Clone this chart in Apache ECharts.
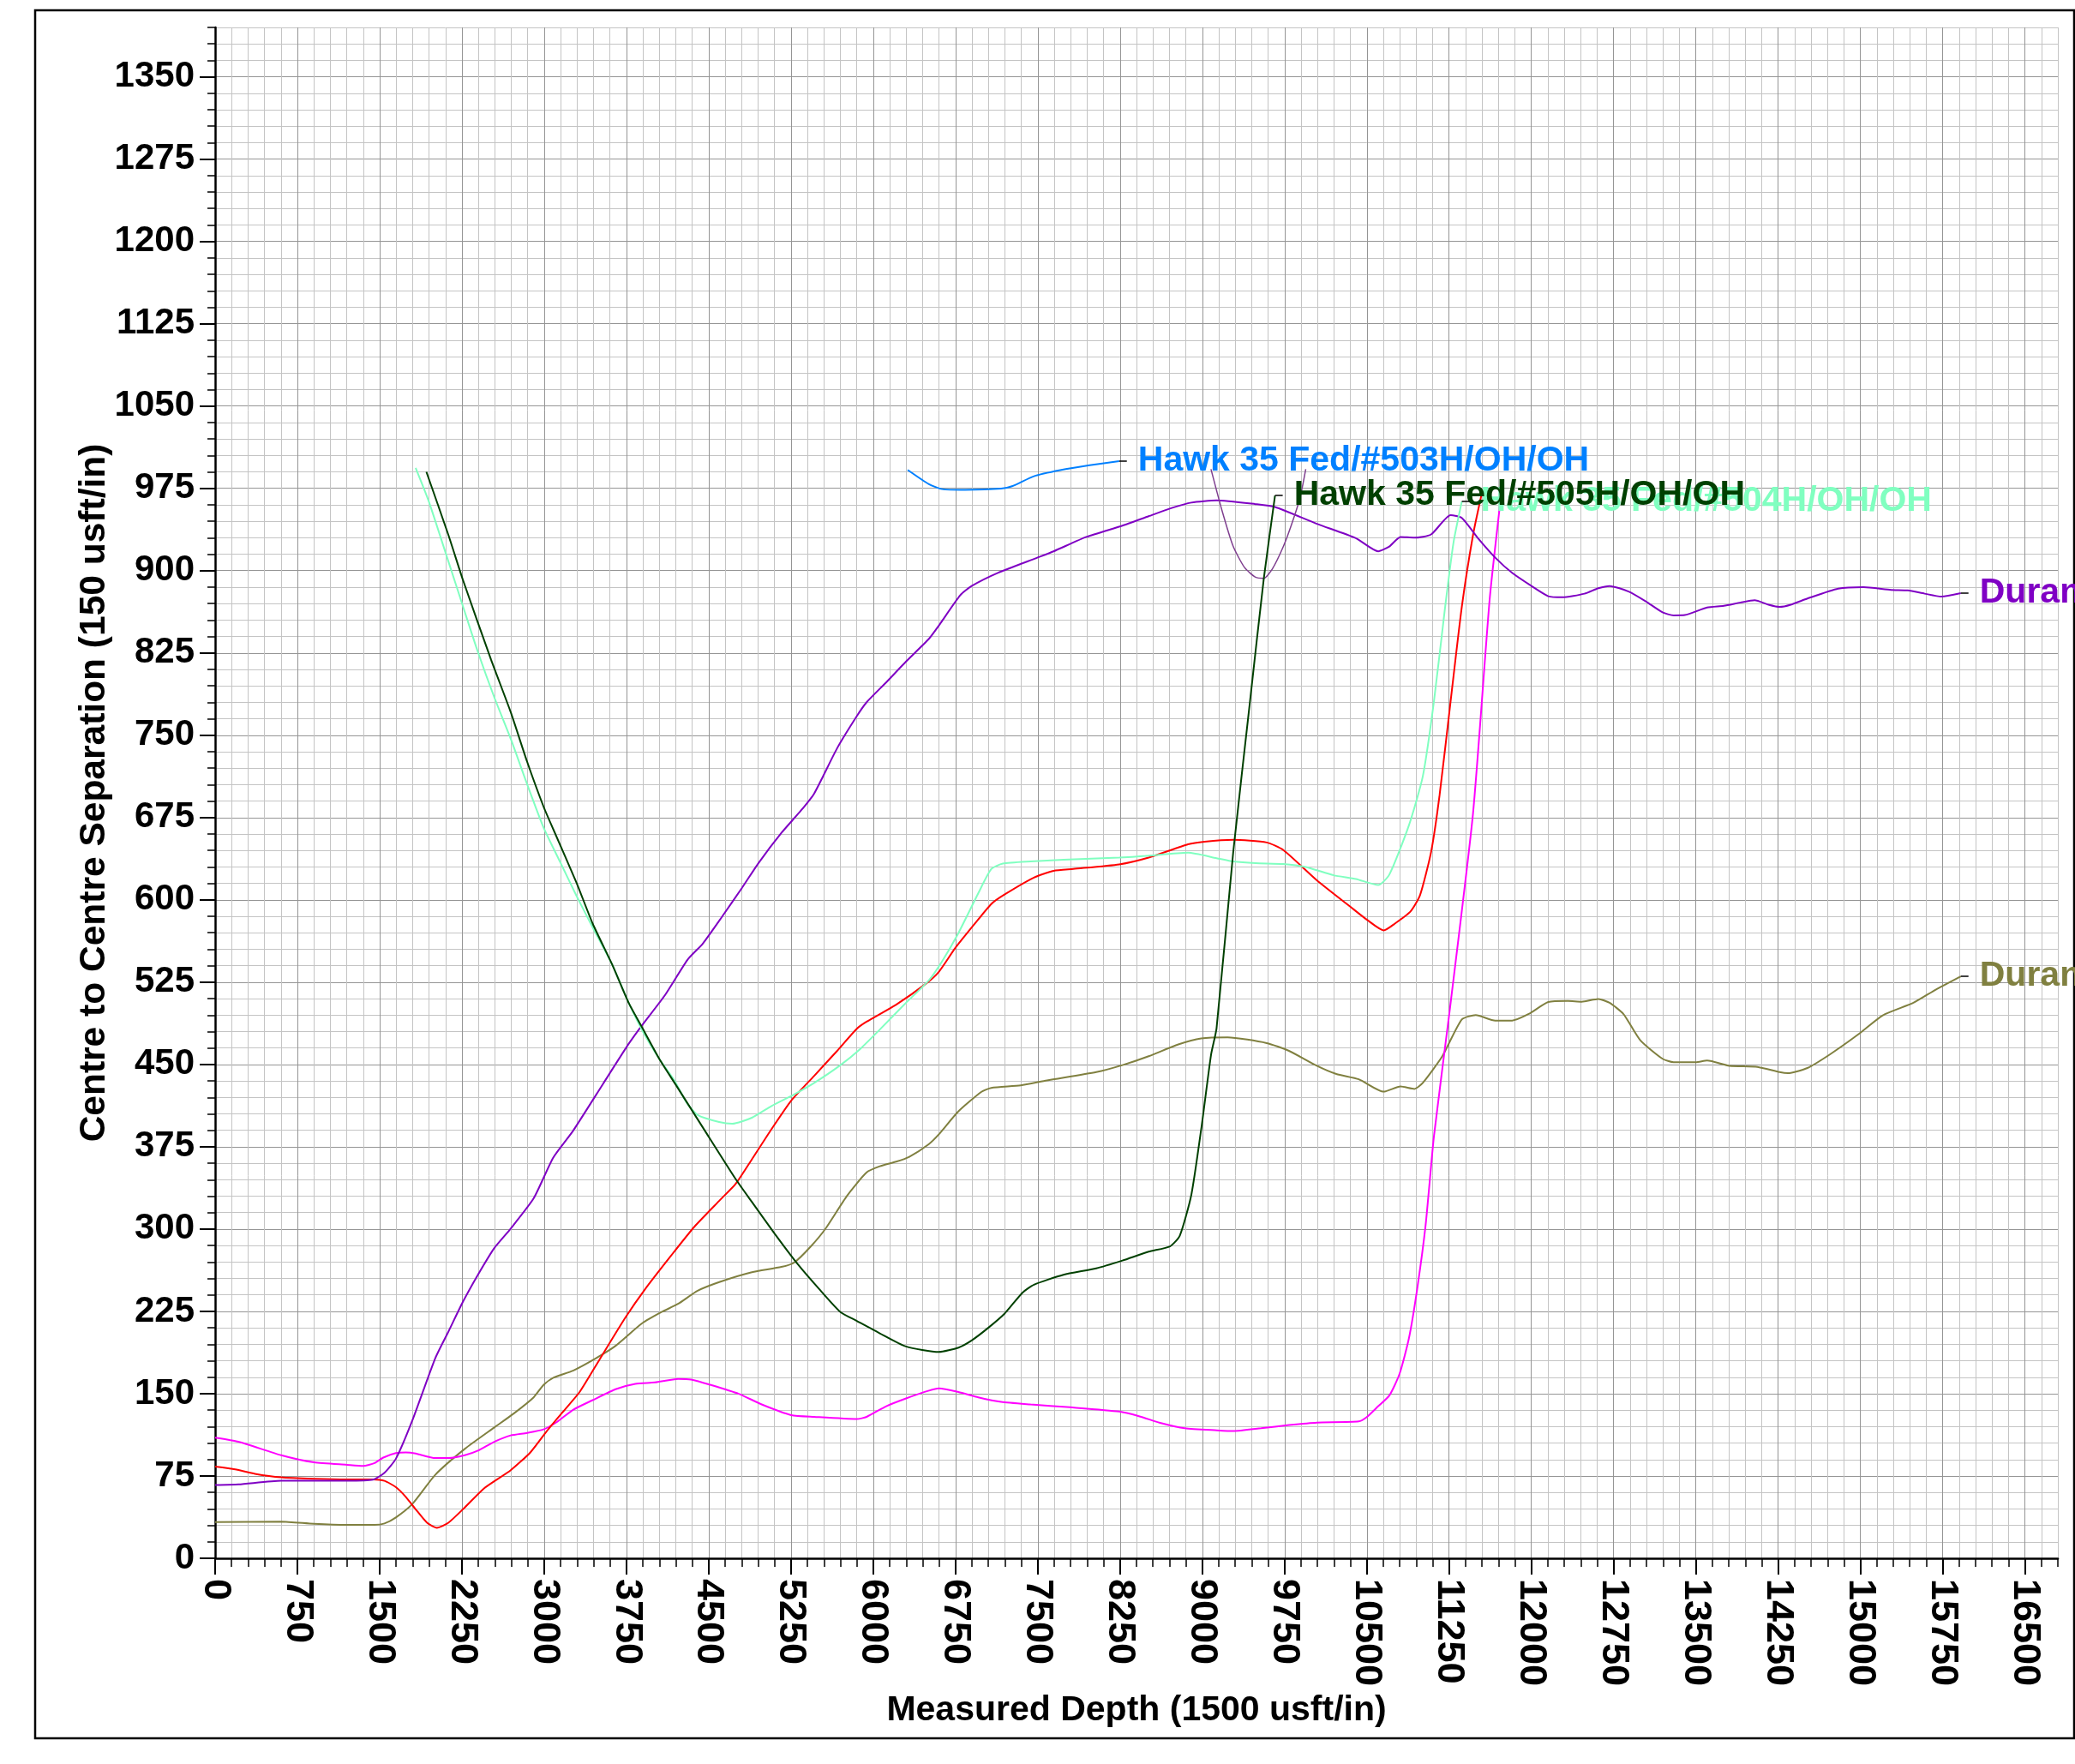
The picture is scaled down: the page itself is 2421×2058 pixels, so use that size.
<!DOCTYPE html>
<html>
<head>
<meta charset="utf-8">
<script src="https://cdn.jsdelivr.net/npm/echarts@6/dist/echarts.min.js"></script>
<style>
  html, body { margin: 0; padding: 0; background: #fff; }
  #chart { width: 2421px; height: 2058px; }
</style>
</head>
<body>
<div id="chart"></div>
<script>
// tick labels
const xLabels = [0, 750, 1500, 2250, 3000, 3750, 4500, 5250, 6000, 6750, 7500, 8250, 9000, 9750, 10500, 11250, 12000, 12750, 13500, 14250, 15000, 15750, 16500];
const yLabels = [0, 75, 150, 225, 300, 375, 450, 525, 600, 675, 750, 825, 900, 975, 1050, 1125, 1200, 1275, 1350];

// [measured depth, centre to centre separation]
const duranPurple = [[0,66.7],[213,67.3],[602,70.6],[1200,70.6],[1439,71.6],[1544,78],[1648,90.7],[1798,125.6],[2007,182.3],[2127,206.6],[2261,234.1],[2396,258.4],[2545,282.7],[2695,300.5],[2904,328],[3083,365.2],[3263,389.5],[3532,431.6],[3771,468.9],[3891,485.6],[4100,513],[4309,545.7],[4445,560],[4624,585],[4804,611],[4953,633.4],[5163,661],[5342,681.5],[5462,697],[5671,738.2],[5850,767.4],[5940,780.1],[6119,798.3],[6299,817.2],[6508,837.9],[6598,849.9],[6792,877.4],[6897,886],[7136,898],[7495,911.8],[7644,917.6],[7943,930.7],[8272,941],[8511,949.6],[8721,957.1],[8900,962],[9130,964],[9485,960.6],[9663,958],[10044,942.7],[10400,929.6],[10604,917.6],[10705,922],[10807,930.7],[10934,930],[11086,933],[11264,950.6],[11366,948],[11518,929],[11671,911.8],[11824,898],[12001,886],[12154,876.7],[12281,875.7],[12484,879],[12611,884],[12713,886],[12891,880.8],[13043,872],[13196,862],[13297,859.2],[13399,859.5],[13602,866.4],[13755,868],[13908,871],[14035,873],[14162,869],[14263,867],[14365,869],[14517,874.6],[14797,883.6],[15026,885],[15280,882.5],[15432,882],[15585,879],[15737,876.4],[15915,879.5]];

const duranOlive = [[0,33],[602,33.4],[901,31.4],[1200,30.4],[1454,30.4],[1544,31.7],[1648,37.2],[1798,49.5],[2007,76.1],[2276,99.7],[2545,119.2],[2725,132.1],[2904,146.7],[2994,158],[3083,164.5],[3263,171],[3472,182.3],[3651,193.6],[3891,214],[4070,224.4],[4220,231.8],[4399,243.8],[4602,251.9],[4894,260.7],[5163,265.5],[5282,269.7],[5432,284.3],[5566,300.5],[5761,330.3],[5940,351.6],[6060,357.2],[6209,361.4],[6329,365.9],[6508,377.5],[6598,386.3],[6777,407.3],[6987,425.1],[7076,428.7],[7345,431],[7584,435.5],[8033,443],[8272,449.4],[8511,457.5],[8781,468.2],[8990,473.7],[9231,474.7],[9587,469.5],[9790,462.4],[10044,448.8],[10222,441.3],[10426,436.5],[10654,425.2],[10807,430],[10934,427.7],[11010,433.2],[11188,457.5],[11366,491],[11493,495],[11671,490],[11824,490],[11976,496],[12154,506.9],[12332,507.9],[12459,507.2],[12611,509.6],[12713,506.2],[12840,495.9],[12993,472.1],[13196,455.2],[13297,452],[13501,452],[13602,453.6],[13806,448.8],[14060,447.8],[14263,443],[14339,442],[14517,446.8],[14721,459.1],[14975,477],[15204,494.8],[15483,506.2],[15687,518.2],[15915,530.3]];

const redWell = [[0,83.5],[183,81],[363,77],[602,73.8],[901,72.5],[1200,71.9],[1439,71.9],[1544,70.6],[1648,64.8],[1738,56],[1828,44.7],[1932,32.4],[2022,27.8],[2127,32.4],[2276,46.3],[2456,64.1],[2695,80.3],[2874,96.5],[3024,115.9],[3173,133.7],[3323,151.5],[3502,180.7],[3741,219.5],[3921,245.4],[4160,276.2],[4369,302.1],[4602,326.4],[4744,341],[4894,363.6],[5073,391.1],[5252,417],[5462,439.7],[5671,462.4],[5850,482.5],[5940,489],[6209,504.5],[6478,523.4],[6598,534.4],[6747,556],[6927,578.4],[7076,596.2],[7196,604.8],[7465,620.3],[7644,626.5],[7824,628.2],[8242,632.3],[8511,638.5],[8870,650.6],[9020,653],[9282,654.7],[9587,652.3],[9739,645.4],[10044,617.9],[10349,593.8],[10502,581.8],[10654,572.2],[10756,578.4],[10898,589.4],[10985,604.2],[11086,643.7],[11163,695.2],[11264,781.2],[11366,867.1],[11468,932.4],[11544,968.5]];

const magentaWell = [[0,110],[213,106.2],[602,93.9],[901,87.4],[1200,85.2],[1349,84.2],[1454,86.8],[1529,91.6],[1648,95.8],[1738,96.5],[1828,95.5],[2007,91.3],[2127,91.3],[2276,93.9],[2396,98.1],[2545,106.2],[2695,112],[2844,114.3],[2994,117.5],[3113,124],[3263,135.3],[3442,144.1],[3651,154.1],[3831,159],[4010,160.3],[4220,163.5],[4339,162.9],[4519,158],[4774,149.9],[4983,140.2],[5252,130.5],[5462,128.9],[5850,126.9],[5940,128.9],[6119,138.6],[6299,145.7],[6508,152.8],[6598,154.8],[6777,151.5],[6957,146.7],[7166,142.5],[7435,140.2],[7794,137.6],[8242,133.7],[8422,129.5],[8631,123],[8840,118.5],[9133,116.6],[9282,115.9],[9536,118.5],[9790,121.4],[10044,123.7],[10426,124.7],[10502,128.9],[10604,138.6],[10705,148.3],[10797,167.7],[10883,200.1],[10959,245.4],[11036,303.7],[11112,384.7],[11254,498],[11468,678.7],[11620,874],[11722,966.8]];

const hawk504 = [[1828,993.6],[1947,963.3],[2127,908.3],[2261,867],[2396,825.8],[2545,784.6],[2695,746.8],[2844,705.5],[2994,666],[3143,635],[3293,604],[3442,574.9],[3622,540.6],[3771,506],[3900,480],[4050,455],[4190,434.9],[4300,415],[4399,404],[4595,397.6],[4714,396],[4894,401.5],[5073,412.2],[5282,422.9],[5462,433.2],[5701,449.4],[5880,464],[6060,481.8],[6299,506.2],[6508,526.8],[6628,544],[6777,569.8],[6957,605.9],[7076,628],[7181,633],[7435,635],[7734,636.5],[8242,638.5],[8482,640],[8870,643],[9130,638],[9282,635],[9485,633.4],[9739,632.7],[9943,630],[10197,622.4],[10400,619],[10604,613.5],[10705,623],[10883,667.7],[11010,712.4],[11112,781],[11214,867],[11290,925.5],[11366,963]];

const hawk505 = [[1926,990],[2127,932.4],[2261,891],[2515,819],[2695,771],[2844,726],[2994,685],[3083,664.3],[3293,616],[3442,578.4],[3622,540.6],[3771,506],[3891,484],[4050,455],[4190,433],[4445,392.8],[4744,345.8],[4893,324.8],[5103,295.6],[5312,268],[5521,243.8],[5701,224.4],[5850,216.3],[6060,205],[6299,193],[6598,188],[6777,192],[6897,198.5],[7046,209.8],[7196,222.8],[7360,242],[7465,249.3],[7734,258.4],[8033,264.2],[8272,271.3],[8511,279.4],[8706,284.3],[8795,294],[8900,331.2],[8990,391],[9080,459],[9130,483],[9282,643.6],[9435,781],[9561,893],[9663,968.5]];

const hawk503 = [[6314,991.8],[6508,978.8],[6628,974.3],[6837,973.6],[7166,974.7],[7271,977.1],[7465,986],[7704,991.5],[7973,996],[8242,999.7]];

const thinPurple = [[9079,992.5],[9180,954.7],[9282,922],[9384,903],[9485,894],[9561,893],[9638,901.4],[9739,922],[9816,942.7],[9892,966.8],[9943,992.5]];

const FONT = "'Liberation Sans', Arial, sans-serif";
const TICK_LEN = 70;

function endTick(data) {
  const p = data[data.length - 1];
  return [[p[0], p[1]], [p[0] + TICK_LEN, p[1]]];
}

function lineSeries(name, data, color, width, label) {
  const s = {
    name: name,
    type: 'line',
    data: data,
    xAxisIndex: 1,
    yAxisIndex: 1,
    showSymbol: false,
    smooth: 0.2,
    lineStyle: { color: color, width: width },
    itemStyle: { color: color },
    silent: true,
    z: 3
  };
  if (label) {
    s.endLabel = {
      show: true,
      formatter: label,
      color: color,
      fontSize: 41,
      fontWeight: 'bold',
      fontFamily: FONT,
      distance: 22
    };
  }
  return s;
}

function tickSeries(data) {
  return {
    type: 'line',
    data: endTick(data),
    xAxisIndex: 1,
    yAxisIndex: 1,
    showSymbol: false,
    lineStyle: { color: '#000', width: 1.5 },
    silent: true,
    z: 4
  };
}

const plain = v => String(v);

let myChart = echarts.init(document.getElementById('chart'));
myChart.setOption({
  animation: false,
  backgroundColor: '#fff',
  grid: { left: 251, right: 20, top: 32, bottom: 240, containLabel: false },
  graphic: [{
    type: 'rect',
    shape: { x: 41, y: 12, width: 2379, height: 2016 },
    style: { fill: 'none', stroke: '#000', lineWidth: 2.5 },
    z: -1
  }],
  xAxis: [
    {
      // minor grid
      type: 'value', position: 'bottom', min: 0, max: 16800, interval: 150,
      axisLine: { show: false },
      axisTick: { show: true, length: 10, lineStyle: { color: '#000', width: 1.5 } },
      axisLabel: { show: false },
      splitLine: { show: true, lineStyle: { color: '#c4c4c4', width: 1 } }
    },
    {
      type: 'value', position: 'bottom', min: 0, max: 16800, interval: 750,
      axisLine: { show: true, onZero: false, lineStyle: { color: '#000', width: 2.5 } },
      axisTick: { show: true, length: 19, customValues: xLabels, lineStyle: { color: '#000', width: 2 } },
      axisLabel: {
        show: true, customValues: xLabels, rotate: -90, margin: 24, formatter: plain,
        color: '#000', fontSize: 45, fontWeight: 'bold', fontFamily: FONT
      },
      splitLine: { show: true, lineStyle: { color: '#959595', width: 1 } },
      name: 'Measured Depth (1500 usft/in)',
      nameLocation: 'middle',
      nameGap: 154,
      nameTextStyle: { color: '#000', fontSize: 41, fontWeight: 'bold', fontFamily: FONT }
    }
  ],
  yAxis: [
    {
      type: 'value', position: 'left', min: 0, max: 1395, interval: 15,
      axisLine: { show: false },
      axisTick: { show: true, length: 9, lineStyle: { color: '#000', width: 1.5 } },
      axisLabel: { show: false },
      splitLine: { show: true, lineStyle: { color: '#c4c4c4', width: 1 } }
    },
    {
      type: 'value', position: 'left', min: 0, max: 1395, interval: 75,
      axisLine: { show: true, onZero: false, lineStyle: { color: '#000', width: 2.5 } },
      axisTick: { show: true, length: 18, customValues: yLabels, lineStyle: { color: '#000', width: 2 } },
      axisLabel: {
        show: true, customValues: yLabels, margin: 24, formatter: plain,
        color: '#000', fontSize: 42, fontWeight: 'bold', fontFamily: FONT
      },
      splitLine: { show: true, lineStyle: { color: '#959595', width: 1 } },
      name: 'Centre to Centre Separation (150 usft/in)',
      nameLocation: 'middle',
      nameGap: 119,
      nameMoveOverlap: false,
      nameTextStyle: { color: '#000', fontSize: 42.5, fontWeight: 'bold', fontFamily: FONT }
    }
  ],
  series: [
    lineSeries('olive', duranOlive, '#808040', 2, 'Duran'),
    lineSeries('magenta', magentaWell, '#ff00ff', 2),
    lineSeries('red', redWell, '#ff0000', 2),
    lineSeries('purple', duranPurple, '#7f00c4', 2, 'Duran'),
    lineSeries('thin', thinPurple, '#7f3f8f', 1.5),
    lineSeries('504', hawk504, '#80ffc0', 2, 'Hawk 35 Fed/#504H/OH/OH'),
    lineSeries('505', hawk505, '#004000', 2, 'Hawk 35 Fed/#505H/OH/OH'),
    lineSeries('503', hawk503, '#0080ff', 2, 'Hawk 35 Fed/#503H/OH/OH'),
    tickSeries(duranOlive),
    tickSeries(duranPurple),
    tickSeries(hawk504),
    tickSeries(hawk505),
    tickSeries(hawk503)
  ]
});
</script>
</body>
</html>
